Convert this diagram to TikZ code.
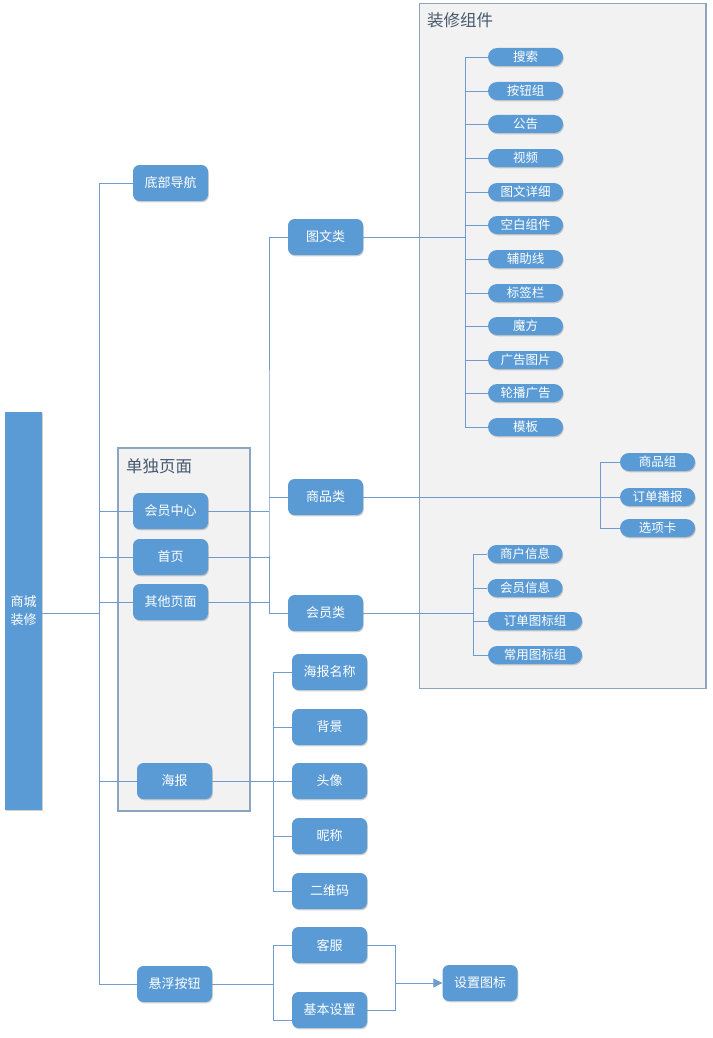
\documentclass[tikz,border=0pt]{standalone}
\usepackage{fontspec}
\setmainfont{Noto Sans CJK SC}
\usetikzlibrary{shadows,arrows.meta}
\definecolor{nblue}{HTML}{5B9BD5}
\definecolor{lblue}{HTML}{6F9BD0}
\definecolor{cborder}{HTML}{8DA4BF}
\definecolor{cfill}{HTML}{F2F2F2}
\definecolor{ctitle}{HTML}{46586F}
\tikzset{
  sh/.style={drop shadow={shadow xshift=0.8pt,shadow yshift=-1.3pt,fill=black,opacity=0.18}},
  boxn/.style={sh,fill=nblue,draw=none,rounded corners=6.5pt,text=white,minimum width=75pt,minimum height=36pt,inner sep=0pt,font=\fontsize{13}{15}\selectfont},
  pill/.style={sh,fill=nblue,draw=none,rounded corners=9pt,text=white,minimum width=75pt,minimum height=18pt,inner sep=0pt,font=\fontsize{12.5}{14}\selectfont},
  grp/.style={draw=cborder,fill=cfill,line width=1.2pt},
  gtitle/.style={anchor=west,text=ctitle,inner sep=0pt,font=\fontsize{16.5}{18}\selectfont},
  conn/.style={draw=lblue,line width=0.9pt},
}
\begin{document}
\begin{tikzpicture}[x=1pt,y=-1pt]
\useasboundingbox (0,0) rectangle (712,1038);
% containers
\draw[grp] (419.5,3.5) rectangle (706,688.5);
\node[gtitle] (t1) at (427,20) {装修组件};
\draw[grp] (118,448) rectangle (250,811);
\node[gtitle] (t2) at (126,466) {单独页面};

% coordinates
\coordinate (c1) at (99,613);
\coordinate (b1) at (269,500);
\coordinate (c2) at (465,237);
\coordinate (c3) at (600,497);
\coordinate (c4) at (473,613);
\coordinate (c5) at (273,781);
\coordinate (c6) at (273,984);
\coordinate (c7) at (395,983);

% root
\node[fill=nblue,minimum width=37pt,minimum height=398pt,inner sep=0pt,text=white,align=center,font=\fontsize{13}{18}\selectfont,sh] (root) at (23.5,611) {商城\\装修};

% level 1
\node[boxn] (dbdh) at (170.5,183) {底部导航};
\node[boxn] (hyzx) at (170.5,511) {会员中心};
\node[boxn] (sy) at (170.5,557) {首页};
\node[boxn] (qtym) at (170.5,602) {其他页面};
\node[boxn] (hb) at (174.5,781) {海报};
\node[boxn] (xfan) at (174.5,984) {悬浮按钮};

% categories
\node[boxn] (twl) at (325.5,237) {图文类};
\node[boxn] (spl) at (325.5,497) {商品类};
\node[boxn] (hyl) at (325.5,613) {会员类};

% components
\node[pill] (p1) at (525.5,57) {搜索};
\node[pill] (p2) at (525.5,91) {按钮组};
\node[pill] (p3) at (525.5,124) {公告};
\node[pill] (p4) at (525.5,158) {视频};
\node[pill] (p5) at (525.5,192) {图文详细};
\node[pill] (p6) at (525.5,225) {空白组件};
\node[pill] (p7) at (525.5,259) {辅助线};
\node[pill] (p8) at (525.5,293) {标签栏};
\node[pill] (p9) at (525.5,326) {魔方};
\node[pill] (p10) at (525.5,360) {广告图片};
\node[pill] (p11) at (525.5,393) {轮播广告};
\node[pill] (p12) at (525.5,427) {模板};

\node[pill] (s1) at (657.5,462) {商品组};
\node[pill] (s2) at (657.5,497) {订单播报};
\node[pill] (s3) at (657.5,528) {选项卡};

\node[pill] (m1) at (525,554) {商户信息};
\node[pill] (m2) at (525,588) {会员信息};
\node[pill,minimum width=94pt] (m3) at (535,621) {订单图标组};
\node[pill,minimum width=94pt] (m4) at (535,655) {常用图标组};

% poster items
\node[boxn] (h1) at (329.5,672) {海报名称};
\node[boxn] (h2) at (329.5,727) {背景};
\node[boxn] (h3) at (329.5,781) {头像};
\node[boxn] (h4) at (329.5,836) {昵称};
\node[boxn] (h5) at (329.5,891) {二维码};

% float button
\node[boxn] (kf) at (329.5,945) {客服};
\node[boxn] (jbsz) at (329.5,1010) {基本设置};
\node[boxn] (sztb) at (480,983) {设置图标};

% connectors
\begin{scope}[conn]
\draw[conn] (root.east |- c1) -- (c1);
\draw[conn] (dbdh.west) -| (c1);
\draw[conn] (hyzx.west) -| (c1);
\draw[conn] (sy.west) -| (c1);
\draw[conn] (qtym.west) -| (c1);
\draw[conn] (hb.west) -| (c1);
\draw[conn] (xfan.west) -| (c1);

\draw[conn] (hyzx.east) -- (hyzx.east -| b1);
\draw[conn] (sy.east) -- (sy.east -| b1);
\draw[conn] (qtym.east) -- (qtym.east -| b1);
\draw[conn] (twl.west) -| (b1) |- (hyl.west);
\draw[conn] (spl.west) -- (spl.west -| b1);

\draw[conn] (twl.east) -- (c2);
\foreach \n in {p1,p2,p3,p4,p5,p6,p7,p8,p9,p10,p11,p12}{\draw[conn] (\n.west) -| (c2);}

\draw[conn] (spl.east) -- (c3);
\foreach \n in {s1,s2,s3}{\draw[conn] (\n.west) -| (c3);}

\draw[conn] (hyl.east) -- (c4);
\foreach \n in {m1,m2,m3,m4}{\draw[conn] (\n.west) -| (c4);}

\draw[conn] (hb.east) -- (c5);
\foreach \n in {h1,h2,h3,h4,h5}{\draw[conn] (\n.west) -| (c5);}

\draw[conn] (xfan.east) -- (c6);
\draw[conn] (kf.west) -| (c6);
\draw[conn] ([yshift=-10pt]jbsz.west) -| (c6);
\draw[conn] (kf.east) -| (c7);
\draw[conn] (jbsz.east) -| (c7);
\draw[conn,-{Triangle[length=9pt,width=9pt]},fill=lblue] (c7) -- (sztb.west);
\end{scope}
\end{tikzpicture}
\end{document}
